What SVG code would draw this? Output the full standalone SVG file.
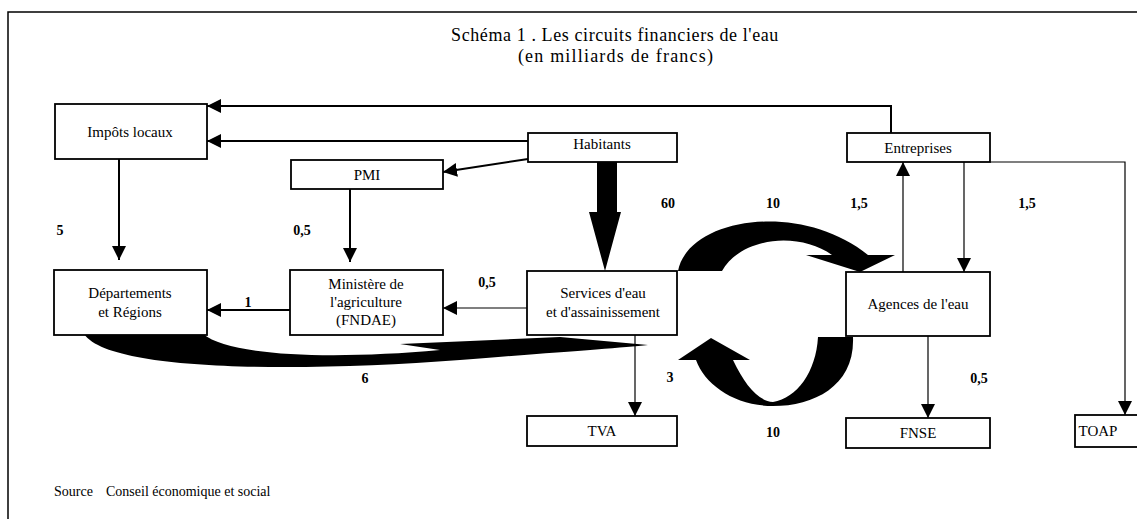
<svg xmlns="http://www.w3.org/2000/svg" width="1137" height="519" viewBox="0 0 1137 519">
<style>
.box{fill:#fff;stroke:#000;stroke-width:1.8}
.lbl{font-family:"Liberation Serif","Times New Roman",serif;font-size:15px;fill:#000;text-anchor:middle}
.num{font-family:"Liberation Serif","Times New Roman",serif;font-size:14px;font-weight:bold;fill:#000;text-anchor:middle}
.ttl{font-family:"Liberation Serif","Times New Roman",serif;font-size:18px;fill:#000;text-anchor:middle}
.ln{fill:none;stroke:#000;stroke-width:2}
.thin{fill:none;stroke:#000;stroke-width:1.2}
.big{fill:#000;stroke:none}
</style>
<defs>
<marker id="ah" markerUnits="userSpaceOnUse" markerWidth="16" markerHeight="16" refX="14" refY="7" orient="auto">
<path d="M0,0 L14,7 L0,14 Z" fill="#000"/>
</marker>
</defs>
<rect width="1137" height="519" fill="#fff"/>
<path d="M8 519 V12 H1137" fill="none" stroke="#000" stroke-width="1.5"/>
<text class="ttl" x="615" y="41" letter-spacing="0.6">Schéma 1 . Les circuits financiers de l'eau</text>
<text class="ttl" x="616" y="62" letter-spacing="1.2">(en milliards de francs)</text>

<g id="connectors">
<path class="ln" d="M891 133 V106 H207" marker-end="url(#ah)"/>
<path class="ln" d="M528 141 H207" marker-end="url(#ah)"/>
<path class="ln" d="M528 159 L443 172" marker-end="url(#ah)"/>
<path class="ln" d="M119 158 V260" marker-end="url(#ah)"/>
<path class="ln" d="M350 189 V262" marker-end="url(#ah)"/>
<path class="ln" d="M290 310 H207" marker-end="url(#ah)"/>
<path class="thin" d="M527 308 H443" marker-end="url(#ah)"/>
<path class="thin" d="M635 335 V416" marker-end="url(#ah)"/>
<path class="thin" d="M928 336 V418" marker-end="url(#ah)"/>
<path class="thin" d="M903 272 V162" marker-end="url(#ah)"/>
<path class="thin" d="M964 162 V272" marker-end="url(#ah)"/>
<path class="thin" d="M990 162 H1125 V415" marker-end="url(#ah)"/>
<path class="big" d="M597 153 H617 V212 H621 L605 271 L589 212 H597 Z"/>
<path class="big" d="M678 271 C688 218 800 200 868 255 L895 255 L860 272 L806 255 L832 255 C800 232 742 236 722 271 Z"/>
<path class="big" d="M853 337 C855 385 815 406 773 406 C735 406 705 385 696 360 L678 360 L711 338 L750 360 L733 360 C745 385 758 401 773 402 C797 398 816 372 818 337 Z"/>
<path class="big" d="M84 334 C110 372 300 372 460 360 C560 352 620 348 648 345 L560 337 L470 341 L400 344 L440 350 C330 360 230 356 203 334 Z"/>
<text class="num" x="60" y="235">5</text>
<text class="num" x="302" y="235">0,5</text>
<text class="num" x="668" y="208">60</text>
<text class="num" x="773" y="208">10</text>
<text class="num" x="859" y="208">1,5</text>
<text class="num" x="1027" y="208">1,5</text>
<text class="num" x="248" y="307">1</text>
<text class="num" x="487" y="287">0,5</text>
<text class="num" x="365" y="383">6</text>
<text class="num" x="670" y="382">3</text>
<text class="num" x="979" y="383">0,5</text>
<text class="num" x="773" y="437">10</text>
</g>

<g id="impots"><rect class="box" x="55" y="104" width="152" height="55"/><text class="lbl" x="130" y="137">Impôts locaux</text></g>
<g id="habitants"><rect class="box" x="528" y="133" width="149" height="29"/><text class="lbl" x="602" y="149">Habitants</text></g>
<g id="pmi"><rect class="box" x="291" y="160" width="152" height="29"/><text class="lbl" x="367" y="180">PMI</text></g>
<g id="entreprises"><rect class="box" x="847" y="133" width="143" height="29"/><text class="lbl" x="918" y="153">Entreprises</text></g>
<g id="departements"><rect class="box" x="54" y="270" width="153" height="65"/><text class="lbl" x="130" y="298">Départements</text><text class="lbl" x="130" y="317">et Régions</text></g>
<g id="ministere"><rect class="box" x="290" y="270" width="153" height="65"/><text class="lbl" x="366" y="289">Ministère de</text><text class="lbl" x="366" y="307">l'agriculture</text><text class="lbl" x="366" y="325">(FNDAE)</text></g>
<g id="services"><rect class="box" x="527" y="271" width="150" height="64"/><text class="lbl" x="603" y="298">Services d'eau</text><text class="lbl" x="603" y="317">et d'assainissement</text></g>
<g id="agences"><rect class="box" x="846" y="272" width="144" height="64"/><text class="lbl" x="918" y="309">Agences de l'eau</text></g>
<g id="tva"><rect class="box" x="527" y="416" width="150" height="30"/><text class="lbl" x="602" y="436">TVA</text></g>
<g id="fnse"><rect class="box" x="846" y="418" width="144" height="30"/><text class="lbl" x="918" y="438">FNSE</text></g>
<g id="toap"><rect class="box" x="1075" y="415" width="70" height="32"/><text class="lbl" x="1098" y="436">TOAP</text></g>
<text y="496" font-family="Liberation Serif, Times New Roman, serif" font-size="14"><tspan x="54">Source</tspan><tspan x="106">Conseil économique et social</tspan></text>
</svg>
